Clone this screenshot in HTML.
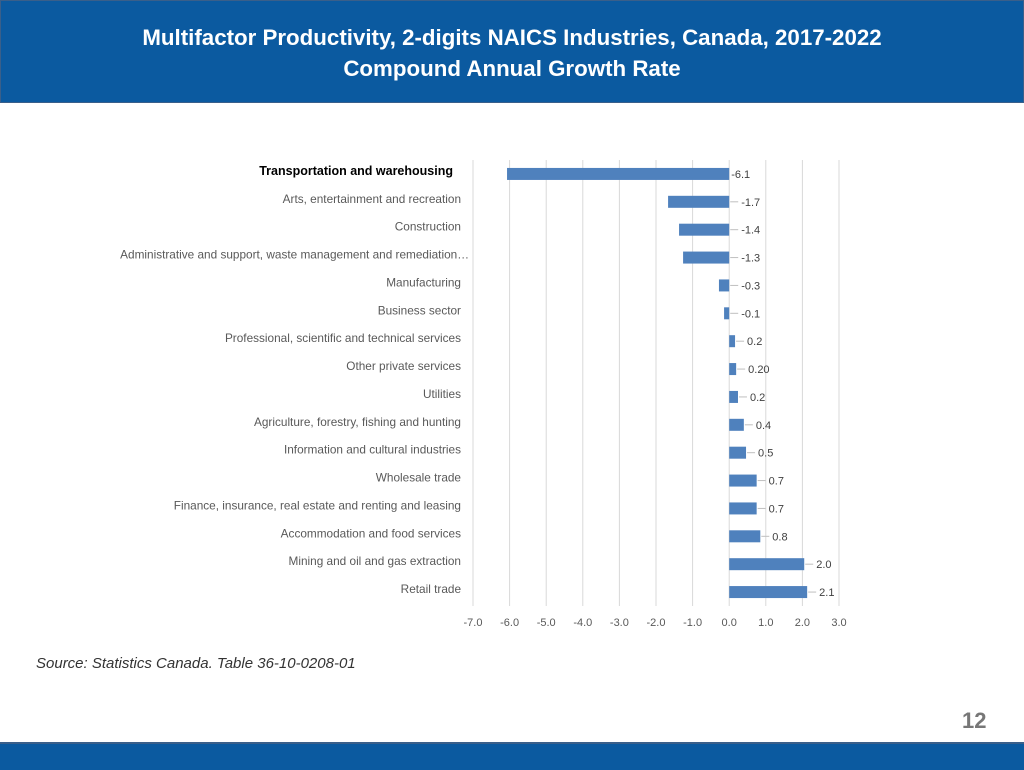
<!DOCTYPE html>
<html><head><meta charset="utf-8"><style>
body{margin:0;width:1024px;height:768px;position:relative;background:#fff;font-family:"Liberation Sans",sans-serif;overflow:hidden}
#hdr{position:absolute;left:0;top:0;width:1022px;height:101px;background:#0B5AA0;border:1px solid #3a5f8a;color:#fff;text-align:center;font-weight:bold;font-size:22.3px;line-height:31px}
#ftr{position:absolute;left:0;top:742px;width:1024px;height:26px;background:#0B5AA0;border-top:2px solid #3a5f8a}
</style></head><body>
<div id="hdr"><div style="padding-top:21px">Multifactor Productivity, 2-digits NAICS Industries, Canada, 2017-2022<br>Compound Annual Growth Rate</div></div>
<svg id="chart" width="1024" height="768" style="position:absolute;left:0;top:0"></svg>
<div style="position:absolute;left:36px;top:655px;font-style:italic;font-size:15px;color:#333">Source: Statistics Canada. Table 36-10-0208-01</div>
<div style="position:absolute;left:962px;top:708px;font-weight:bold;font-size:22px;color:#777">12</div>
<div id="ftr"></div>
<script>
const categories=["Transportation and warehousing","Arts, entertainment and recreation","Construction","Administrative and support, waste management and remediation…","Manufacturing","Business sector","Professional, scientific and technical services","Other private services","Utilities","Agriculture, forestry, fishing and hunting","Information and cultural industries","Wholesale trade","Finance, insurance, real estate and renting and leasing","Accommodation and food services","Mining and oil and gas extraction","Retail trade"];
const values=[-6.07,-1.67,-1.37,-1.26,-0.28,-0.14,0.16,0.19,0.24,0.4,0.46,0.75,0.75,0.85,2.05,2.13];
const valueLabels=["-6.1","-1.7","-1.4","-1.3","-0.3","-0.1","0.2","0.20","0.2","0.4","0.5","0.7","0.7","0.8","2.0","2.1"];
const ticks=[-7,-6,-5,-4,-3,-2,-1,0,1,2,3];
const svg=document.getElementById('chart');const NS='http://www.w3.org/2000/svg';
const x0=473,x1=839,vmin=-7,vmax=3,plotTop=160,plotBottom=606;
const sx=v=>x0+(v-vmin)/(vmax-vmin)*(x1-x0);
const rowH=(plotBottom-plotTop)/categories.length;
const cy=i=>plotTop+rowH*(i+0.5);
function mk(t,a){const e=document.createElementNS(NS,t);for(const k in a)e.setAttribute(k,a[k]);svg.appendChild(e);return e;}
ticks.forEach(t=>{const g=mk('line',{x1:sx(t),x2:sx(t),y1:plotTop,y2:plotBottom,stroke:'#d9d9d9','stroke-width':1});


const l=mk('text',{x:sx(t),y:626,'text-anchor':'middle','font-size':11,fill:'#595959','font-family':'Liberation Sans, sans-serif'});l.textContent=t.toFixed(1);

});
categories.forEach((c,i)=>{const y=cy(i),v=values[i];
const t=mk('text',{x:461,y:y+1,'text-anchor':'end','font-size':i==0?12.5:11.8,'font-weight':i==0?'bold':'normal',fill:i==0?'#000':'#595959','font-family':'Liberation Sans, sans-serif'});
if(i==0)t.setAttribute('x',453);
if(i==3)t.setAttribute('x',469);
t.textContent=c;


const b=mk('rect',{x:Math.min(sx(0),sx(v)),y:y-6,width:Math.abs(sx(v)-sx(0)),height:12,fill:'#4F81BD'});


const ex=sx(Math.max(v,0));
if(i>0){const ll=mk('line',{x1:ex+1,x2:ex+9,y1:y,y2:y,stroke:'#bfbfbf'});

}
const vl=mk('text',{x:i==0?ex+2:ex+12,y:y+4,'font-size':11,fill:'#404040','font-family':'Liberation Sans, sans-serif'});vl.textContent=valueLabels[i];

});
</script>
</body></html>
